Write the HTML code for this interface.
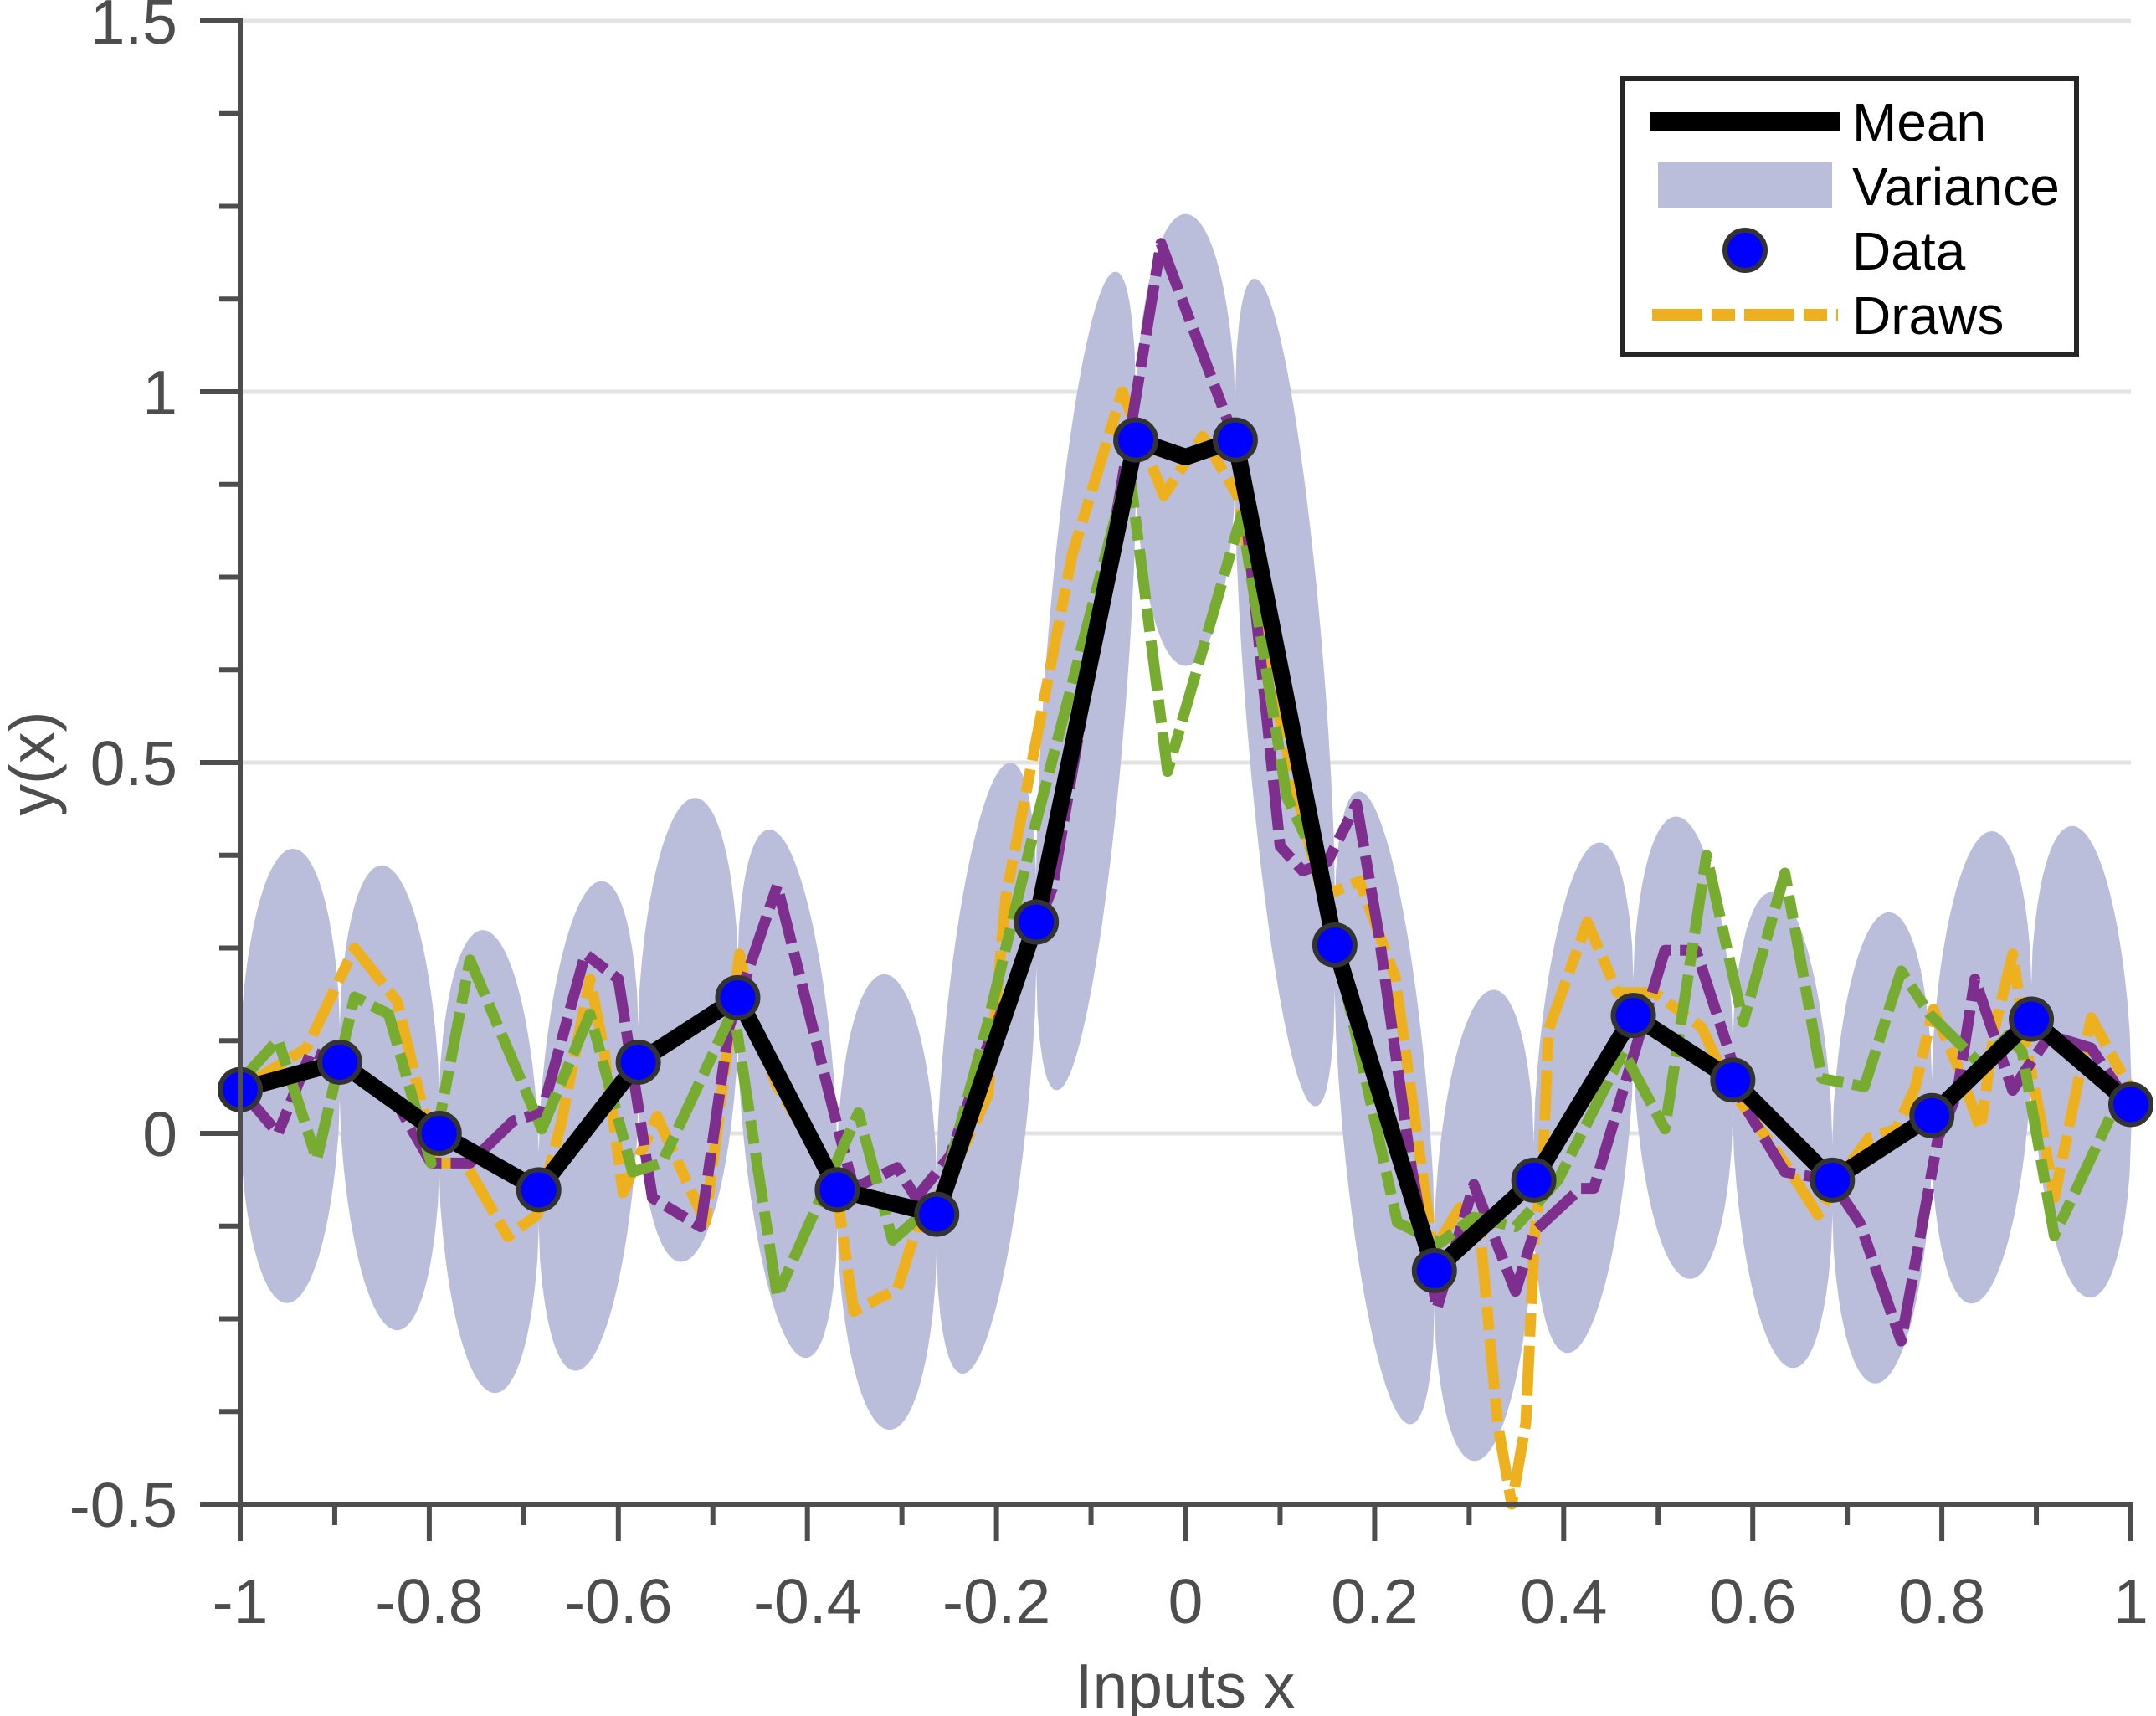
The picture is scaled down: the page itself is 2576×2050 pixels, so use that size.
<!DOCTYPE html>
<html><head><meta charset="utf-8"><style>
html,body{margin:0;padding:0;background:#fff;}
svg{display:block;}
</style></head><body>
<svg id="chart" width="2576" height="2050" viewBox="0 0 2576 2050" xmlns="http://www.w3.org/2000/svg" font-family="Liberation Sans, Arial, sans-serif">
<g id="grid"></g>
<g id="variance"></g>
<g id="draws"></g>
<g id="mean"></g>
<g id="data"></g>
<g id="axes"></g>
<text x="1416" y="2040" font-size="75" fill="#4d4d4d" text-anchor="middle">Inputs x</text>
<text x="0" y="0" font-size="75" fill="#4d4d4d" text-anchor="middle" transform="translate(64,912) rotate(-90)">y(x)</text>
<g>
<rect x="1939" y="94" width="542" height="330" fill="#fff" stroke="#262626" stroke-width="6"/>
<line x1="1971" y1="145" x2="2199" y2="145" stroke="#000" stroke-width="22"/>
<text x="2213" y="168" font-size="64">Mean</text>
<rect x="1981" y="194" width="208" height="54" fill="#bbbedb"/>
<text x="2213" y="245" font-size="64">Variance</text>
<circle cx="2085" cy="299" r="24" fill="#0000ff" stroke="#333" stroke-width="6"/>
<text x="2213" y="322" font-size="64">Data</text>
<line x1="1974" y1="376" x2="2196" y2="376" stroke="#edb120" stroke-width="14" stroke-dasharray="60,11,28,11"/>
<text x="2213" y="399" font-size="64">Draws</text>
</g>
</svg>
<script>
const dataX = [-1,-0.8947,-0.7895,-0.6842,-0.5789,-0.4737,-0.3684,-0.2632,-0.1579,-0.0526,0.0526,0.1579,0.2632,0.3684,0.4737,0.5789,0.6842,0.7895,0.8947,1];
const dataY = [0.059,0.096,0.0,-0.076,0.096,0.183,-0.076,-0.109,0.285,0.935,0.935,0.254,-0.185,-0.063,0.159,0.072,-0.063,0.024,0.154,0.039];
const meanX = [-1,-0.8947,-0.7895,-0.6842,-0.5789,-0.4737,-0.3684,-0.2632,-0.1579,-0.0526,0,0.0526,0.1579,0.2632,0.3684,0.4737,0.5789,0.6842,0.7895,0.8947,1];
const meanY = [0.059,0.096,0.0,-0.076,0.096,0.183,-0.076,-0.109,0.285,0.935,0.912,0.935,0.254,-0.185,-0.063,0.159,0.072,-0.063,0.024,0.154,0.039];
const varHalfWidth = [0.304,0.308,0.308,0.317,0.308,0.33,0.305,0.36,0.444,0.303,0.44,0.364,0.31,0.324,0.307,0.312,0.313,0.31,0.311];
const orangeX = [-1,-0.93,-0.879,-0.834,-0.808,-0.793,-0.762,-0.717,-0.686,-0.661,-0.63,-0.615,-0.595,-0.559,-0.508,-0.472,-0.457,-0.432,-0.371,-0.351,-0.305,-0.285,-0.249,-0.209,-0.19,-0.12,-0.067,-0.023,0.018,0.055,0.089,0.117,0.145,0.184,0.222,0.262,0.29,0.31,0.33,0.345,0.36,0.369,0.378,0.384,0.425,0.457,0.496,0.546,0.575,0.605,0.634,0.669,0.693,0.723,0.752,0.772,0.791,0.816,0.841,0.856,0.875,0.89,0.904,0.919,0.958,0.993,1];
const orangeY = [0.06,0.115,0.25,0.178,0.04,-0.04,-0.04,-0.139,-0.11,0.011,0.208,0.11,-0.08,0.023,-0.12,0.242,0.143,0.063,-0.063,-0.24,-0.21,-0.13,-0.058,0.052,0.32,0.78,1.0,0.86,0.94,0.86,0.62,0.46,0.32,0.34,0.21,-0.16,-0.1,-0.11,-0.39,-0.5,-0.39,-0.14,-0.04,0.14,0.285,0.19,0.19,0.143,0.063,0.011,-0.04,-0.11,-0.058,-0.006,0.006,0.063,0.167,0.093,0.006,0.143,0.242,0.11,0.023,-0.087,0.156,0.074,0.06];
const purpleX = [-1,-0.96,-0.925,-0.895,-0.834,-0.798,-0.757,-0.711,-0.681,-0.635,-0.6,-0.564,-0.513,-0.483,-0.432,-0.371,-0.351,-0.305,-0.285,-0.249,-0.209,-0.141,-0.067,-0.026,0.046,0.062,0.1,0.124,0.15,0.181,0.205,0.239,0.266,0.305,0.349,0.369,0.418,0.432,0.507,0.54,0.575,0.59,0.634,0.683,0.713,0.757,0.796,0.816,0.835,0.875,0.889,0.914,0.958,1];
const purpleY = [0.06,0.0,0.11,0.096,0.04,-0.04,-0.04,0.017,0.028,0.242,0.208,-0.087,-0.126,0.143,0.334,0.023,-0.074,-0.046,-0.087,-0.03,0.12,0.33,0.88,1.2,0.956,0.855,0.387,0.354,0.366,0.444,0.264,-0.047,-0.236,-0.069,-0.213,-0.132,-0.074,-0.074,0.247,0.247,0.11,0.04,-0.052,-0.063,-0.12,-0.28,-0.006,0.052,0.208,0.058,0.086,0.132,0.115,0.035];
const greenX = [-1,-0.96,-0.919,-0.879,-0.843,-0.798,-0.757,-0.681,-0.63,-0.585,-0.554,-0.478,-0.432,-0.346,-0.31,-0.259,-0.209,-0.158,-0.06,-0.019,0.059,0.107,0.144,0.161,0.224,0.269,0.305,0.349,0.394,0.463,0.507,0.551,0.59,0.634,0.673,0.718,0.757,0.787,0.841,0.87,0.885,0.919,0.983,1];
const greenY = [0.07,0.126,-0.035,0.184,0.161,-0.04,0.234,0.006,0.161,-0.052,-0.04,0.167,-0.219,0.028,-0.144,-0.087,0.15,0.42,0.9,0.488,0.833,0.454,0.354,0.243,-0.12,-0.148,-0.113,-0.126,-0.063,0.11,0.006,0.375,0.15,0.351,0.074,0.063,0.219,0.161,0.093,0.132,0.11,-0.138,0.035,0.04];
const xTickVals = [-1,-0.8,-0.6,-0.4,-0.2,0,0.2,0.4,0.6,0.8,1];
const xTickLabels = ['-1','-0.8','-0.6','-0.4','-0.2','0','0.2','0.4','0.6','0.8','1'];
const yTickVals = [-0.5,0,0.5,1,1.5];
const yTickLabels = ['-0.5','0','0.5','1','1.5'];

const NS='http://www.w3.org/2000/svg';
const X0=287, X1=2546, Y0=1797, Y1=25;
function sx(v){return X0+(v+1)/2*(X1-X0);}
function sy(v){return Y0-(v+0.5)/2*(Y0-Y1);}
function mk(tag,parent,attrs){const e=document.createElementNS(NS,tag);for(const k in attrs)e.setAttribute(k,attrs[k]);parent.appendChild(e);return e;}

const grid=document.getElementById('grid');
yTickVals.forEach(v=>{
  if(v===-0.5)return;
  const l=mk('line',grid,{x1:X0,x2:X1,y1:sy(v),y2:sy(v),stroke:'#e3e3e3','stroke-width':5});
  
  
});

const vg=document.getElementById('variance');
for(let i=0;i<dataX.length-1;i++){
  const xa=dataX[i],xb=dataX[i+1],ya=dataY[i],yb=dataY[i+1],w=varHalfWidth[i];
  const up=[],dn=[];const N=40;
  for(let k=0;k<=N;k++){
    const t=k/N;const x=xa+(xb-xa)*t;const c=ya+(yb-ya)*t;
    const h=w*Math.sqrt(Math.max(0,1-(2*t-1)*(2*t-1)));
    up.push(sx(x).toFixed(1)+','+sy(c+h).toFixed(1));
    dn.push(sx(x).toFixed(1)+','+sy(c-h).toFixed(1));
  }
  const p=mk('polygon',vg,{points:up.concat(dn.reverse()).join(' '),fill:'#bbbedb',stroke:'#bbbedb','stroke-width':3});
  
  
}

function poly(g,xs,ys,attrs,name){
  const pts=xs.map((x,i)=>sx(x).toFixed(1)+','+sy(ys[i]).toFixed(1)).join(' ');
  const e=mk('polyline',g,Object.assign({points:pts,fill:'none','stroke-linejoin':'round'},attrs));
  
  
  return e;
}
const dg=document.getElementById('draws');
const dash={'stroke-width':13,'stroke-dasharray':'60,11,28,11'};
poly(dg,orangeX,orangeY,Object.assign({stroke:'#edb120'},dash),'draw-orange');
poly(dg,purpleX,purpleY,Object.assign({stroke:'#7e2f8e'},dash),'draw-purple');
poly(dg,greenX,greenY,Object.assign({stroke:'#77ac30'},dash),'draw-green');
poly(document.getElementById('mean'),meanX,meanY,{stroke:'#000','stroke-width':20},'mean-curve');

const pg=document.getElementById('data');
dataX.forEach((x,i)=>{
  const c=mk('circle',pg,{cx:sx(x),cy:sy(dataY[i]),r:24,fill:'#0000ff',stroke:'#333','stroke-width':6});
  
  
});

const ax=document.getElementById('axes');
const yl=mk('line',ax,{x1:X0,x2:X0,y1:Y1-3,y2:Y0+3,stroke:'#4d4d4d','stroke-width':6});


const xl=mk('line',ax,{x1:X0-3,x2:X1+3,y1:Y0,y2:Y0,stroke:'#4d4d4d','stroke-width':6});


for(let k=0;k<=20;k++){
  const v=-1+k*0.1;const major=(k%2===0);
  const t=mk('line',ax,{x1:sx(v),x2:sx(v),y1:Y0,y2:Y0+(major?44:25),stroke:'#4d4d4d','stroke-width':6});
  
  
}
for(let k=0;k<=16;k++){
  const v=-0.5+k*0.125;const major=(k%4===0);
  const t=mk('line',ax,{x1:X0,x2:X0-(major?48:25),y1:sy(v),y2:sy(v),stroke:'#4d4d4d','stroke-width':6});
  
  
}
xTickVals.forEach((v,i)=>{
  const t=mk('text',ax,{x:sx(v),y:1939,'font-size':75,fill:'#4d4d4d','text-anchor':'middle'});
  t.textContent=xTickLabels[i];
  
  
});
yTickVals.forEach((v,i)=>{
  const t=mk('text',ax,{x:212,y:sy(v)+27,'font-size':75,fill:'#4d4d4d','text-anchor':'end'});
  t.textContent=yTickLabels[i];
  
  
});
</script>
</body></html>
